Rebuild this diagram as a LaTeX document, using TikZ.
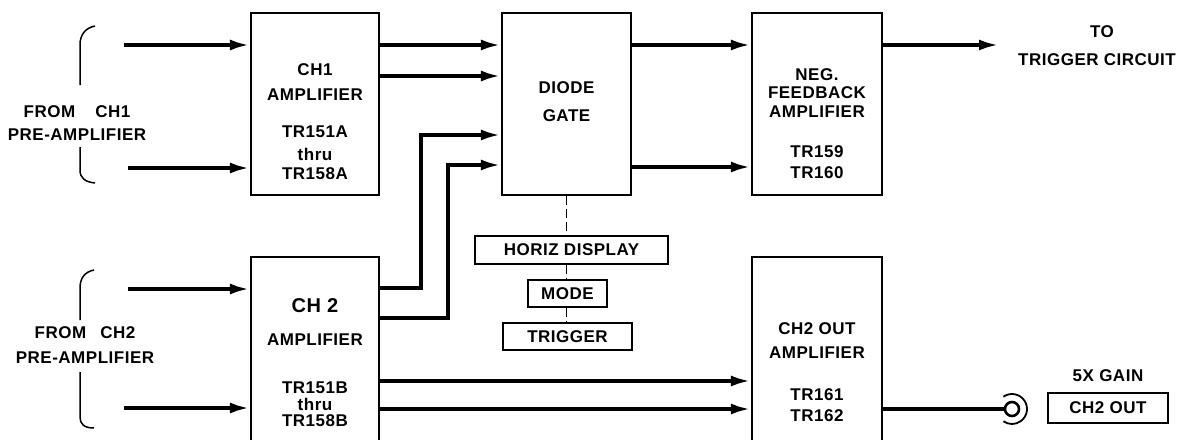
\documentclass[tikz,border=0pt]{standalone}
\usepackage{fontspec}
\setmainfont{Liberation Sans}[LetterSpace=3]
\usetikzlibrary{arrows.meta}
\begin{document}
\begin{tikzpicture}[x=1pt,y=-1pt,
  box/.style={draw, line width=2.2pt, inner sep=0pt},
  sig/.style={line width=3.8pt, -{Latex[length=20pt,width=11pt]}},
  wire/.style={line width=3.8pt},
  dashlink/.style={line width=1.6pt, dash pattern=on 9pt off 4pt},
  txt/.style={font=\bfseries\fontsize{17}{19}\selectfont, inner sep=0pt},
  bigtxt/.style={font=\bfseries\fontsize{20}{22}\selectfont, inner sep=0pt},
  brk/.style={line width=1.5pt}]
\useasboundingbox (0,0) rectangle (1188,439);
\begin{scope}
\clip (0,0) rectangle (1188,439);
% boxes
\node[box, minimum width=128pt, minimum height=182pt] (ch1) at (315,104) {};
\node[box, minimum width=129pt, minimum height=182pt] (dg) at (566.5,104) {};
\node[box, minimum width=130pt, minimum height=182pt] (nf) at (817,104) {};
\node[box, minimum width=128pt, minimum height=213pt] (ch2) at (315,363.5) {};
\node[box, minimum width=130pt, minimum height=213pt] (co) at (817,363.5) {};
\node[box, line width=1.8pt, minimum width=193pt, minimum height=28pt] (hd) at (571.5,250) {};
\node[box, line width=1.8pt, minimum width=79pt, minimum height=27pt] (md) at (567.5,293.5) {};
\node[box, line width=1.8pt, minimum width=129pt, minimum height=27pt] (tg) at (567.5,336.5) {};
\node[box, line width=1.8pt, minimum width=120pt, minimum height=30pt] (outbox) at (1108,408) {};
\node[circle, draw, line width=2.6pt, minimum size=14pt, inner sep=0pt] (jack) at (1012,409) {};
\draw[line width=1.8pt] (jack.center) ++(125:15pt) arc[start angle=125, end angle=-125, radius=15pt];

% texts
\node[txt] (t1a) at (315,70) {CH1};
\node[txt] (t1b) at (315,95) {AMPLIFIER};
\node[txt] (t1c) at (315,132) {TR151A};
\node[txt] (t1d) at (315,154) {thru};
\node[txt] (t1e) at (315,174) {TR158A};
\node[txt] (tdg1) at (566.5,88) {DIODE};
\node[txt] (tdg2) at (566.5,116) {GATE};
\node[txt] (tnf1) at (817,75) {NEG.};
\node[txt] (tnf2) at (817,93) {FEEDBACK};
\node[txt] (tnf3) at (817,112) {AMPLIFIER};
\node[txt] (tnf4) at (817,152) {TR159};
\node[txt] (tnf5) at (817,173) {TR160};
\node[bigtxt] (t2a) at (315,306) {CH 2};
\node[txt] (t2b) at (315,340) {AMPLIFIER};
\node[txt] (t2c) at (315,388) {TR151B};
\node[txt] (t2d) at (315,404) {thru};
\node[txt] (t2e) at (315,421) {TR158B};
\node[txt] (tco1) at (817,329) {CH2 OUT};
\node[txt] (tco2) at (817,353) {AMPLIFIER};
\node[txt] (tco3) at (817,395) {TR161};
\node[txt] (tco4) at (817,416) {TR162};
\node[txt] at (hd.center) {HORIZ DISPLAY};
\node[txt] at (md.center) {MODE};
\node[txt] at (tg.center) {TRIGGER};
\node[txt] at (outbox.center) {CH2 OUT};
\node[txt] (gain) at (1108,376) {5X GAIN};
\node[txt] (to1) at (1102,32) {TO};
\node[txt] (to2) at (1097,60) {TRIGGER CIRCUIT};
\node[txt] (f1a) at (77,112) {FROM\hspace{20pt}CH1};
\node[txt] (f1b) at (77,135) {PRE-AMPLIFIER};
\node[txt] (f2a) at (85,333) {FROM\hspace{14pt}CH2};
\node[txt] (f2b) at (85,358) {PRE-AMPLIFIER};

% brackets
\draw[brk] (95,26) .. controls (85,28) and (80,35) .. (80,45) -- (80,85);
\draw[brk] (80,147) -- (80,170) .. controls (80,178) and (85,182) .. (95,183);
\draw[brk] (94,270) .. controls (84,272) and (80,279) .. (80,288) -- (80,320);
\draw[brk] (80,372) -- (80,417) .. controls (80,424) and (84,428) .. (94,428);

% free input ends
\coordinate (i1) at (124,45);
\coordinate (i2) at (128,168);
\coordinate (i3) at (128,289);
\coordinate (i4) at (124,408);
\coordinate (otr) at (999,45);

% connectors
\draw[sig] (i1) -- (ch1.west |- i1);
\draw[sig] (i2) -- (ch1.west |- i2);
\draw[sig] (ch1.east |- 0,45) -- (dg.west |- 0,45);
\draw[sig] (ch1.east |- 0,76) -- (dg.west |- 0,76);
\draw[sig] (ch2.east |- 0,288) -| (421,135) -- (dg.west |- 0,135);
\draw[sig] (ch2.east |- 0,318) -| (448,165) -- (dg.west |- 0,165);
\draw[sig] (dg.east |- 0,45) -- (nf.west |- 0,45);
\draw[sig] (dg.east |- 0,167) -- (nf.west |- 0,167);
\draw[sig] (nf.east |- otr) -- (otr);
\draw[sig] (i3) -- (ch2.west |- i3);
\draw[sig] (i4) -- (ch2.west |- i4);
\draw[sig] (ch2.east |- 0,381) -- (co.west |- 0,381);
\draw[sig] (ch2.east |- 0,409) -- (co.west |- 0,409);
\draw[wire] (co.east |- jack) -- (jack.west);

\draw[dashlink] (dg.south) -- (dg.south |- hd.north);
\draw[dashlink] (dg.south |- hd.south) -- (dg.south |- md.north);
\draw[dashlink] (dg.south |- md.south) -- (dg.south |- tg.north);
\end{scope}
\end{tikzpicture}
\end{document}
